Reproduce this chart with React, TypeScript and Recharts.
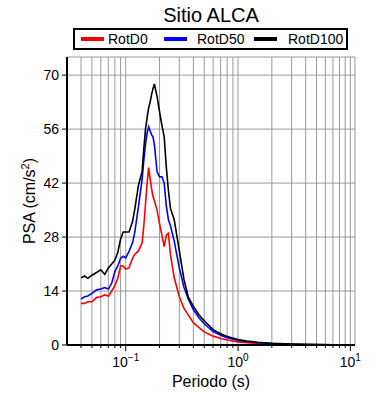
import { CartesianGrid, Legend, Line, LineChart, XAxis, YAxis } from "recharts";

const periods = [
  0.04, 0.043, 0.046, 0.05, 0.055, 0.06, 0.065, 0.07, 0.075, 0.08, 0.085, 0.09, 0.095, 0.1, 0.107, 0.115, 0.12,
  0.13, 0.14, 0.145, 0.15, 0.155, 0.16, 0.165, 0.17, 0.175, 0.18, 0.19, 0.2, 0.21, 0.22, 0.23, 0.24, 0.25, 0.27,
  0.3, 0.33, 0.36, 0.4, 0.45, 0.5, 0.6, 0.7, 0.8, 1, 1.2, 1.5, 2, 3, 4, 5, 7, 10,
];
const rotD0 = [
  10.8, 10.8, 11.2, 11.2, 12.3, 12.5, 13.0, 12.7, 14.0, 15.4, 17.3, 20.5, 20.5, 19.7, 20.0, 22.5, 23.5,
  24.4, 26.5, 31, 36.5, 42, 46, 43, 40.5, 38.5, 37.5, 35, 31.5, 28.5, 25.5, 28.5, 29, 23.5, 17.5,
  12.5, 9.5, 7.8, 5.8, 4.5, 3.4, 2.3, 1.7, 1.3, 0.8, 0.6, 0.4, 0.25, 0.13, 0.08, 0.05, 0.03, 0.02,
];
const rotD50 = [
  11.9, 12.5, 12.7, 13.4, 14.3, 14.5, 14.9, 14.5, 16.0, 19.0, 20.5, 22.5, 23.0, 22.6, 24.3, 26.5, 29.0,
  36, 43, 48, 52, 55, 56.6, 55.5, 54.5, 54.0, 52, 45, 43.6, 43.6, 42, 36, 32.5, 31, 27,
  20, 15, 12, 9.2, 7.0, 5.5, 3.5, 2.5, 1.9, 1.2, 0.9, 0.6, 0.4, 0.2, 0.13, 0.09, 0.05, 0.03,
];
const rotD100 = [
  17.4, 17.9, 17.3, 18.1, 18.8, 19.5, 18.3, 20.0, 21.0, 22.0, 24.0, 27.5, 29.3, 29.3, 29.3, 32.0, 35.0,
  41.5, 45, 51, 56, 59, 61.5, 63, 65, 66.5, 67.7, 64.5, 60.5, 57, 54, 46, 40, 35.5, 32.5,
  24.5, 17, 12.5, 10.0, 7.8, 6.3, 4.0, 2.9, 2.2, 1.4, 1.0, 0.7, 0.45, 0.25, 0.15, 0.1, 0.05, 0.03,
];

const seriesNames = ["RotD0", "RotD50", "RotD100"];
const yTicks = [0, 14, 28, 42, 56, 70];
const xTicks = [
  0.04, 0.05, 0.06, 0.07, 0.08, 0.09, 0.1, 0.2, 0.3, 0.4, 0.5, 0.6, 0.7, 0.8, 0.9, 1, 2, 3, 4, 5, 6, 7, 8, 9, 10,
];
const decadeExp: Record<string, string> = { "0.1": "\u22121", "1": "0", "10": "1" };

const data = periods.map((t, i) => ({ t, rotD0: rotD0[i], rotD50: rotD50[i], rotD100: rotD100[i] }));

const font = "'Liberation Sans', Arial, Helvetica, sans-serif";

function BottomTick({ x, y, payload }: any) {
  const exp = decadeExp[String(payload.value)];
  const major = exp !== undefined;
  return (
    <g>
      <line x1={x} x2={x} y1={y} y2={y + (major ? 6 : 3)} stroke="#000" />
      {major && (
        <text x={x} y={y + 22} textAnchor="middle" fontSize={14} fill="#000">
          10<tspan dy={-6} fontSize={10}>{exp}</tspan>
        </text>
      )}
    </g>
  );
}

function TopTick({ x, y, payload }: any) {
  const major = decadeExp[String(payload.value)] !== undefined;
  return <line x1={x} x2={x} y1={y} y2={y - (major ? 6 : 3)} stroke="#000" />;
}

const legendPos = [
  { swatch: 6, text: 33 },
  { swatch: 89, text: 122 },
  { swatch: 179, text: 213 },
];

function LegendBox({ payload }: any) {
  const items = seriesNames.map((n) => (payload || []).find((p: any) => p.value === n)).filter(Boolean);
  return (
    <div
      style={{
        position: "relative",
        width: 275,
        height: 22,
        border: "2px solid #000",
        boxSizing: "border-box",
        fontSize: 14,
        fontFamily: font,
        background: "#fff",
      }}
    >
      {items.map((p: any, i: number) => (
        <div key={p.value}>
          <span
            style={{
              position: "absolute",
              left: legendPos[i].swatch,
              top: 7,
              width: 23,
              height: 4,
              background: p.color,
            }}
          />
          <span style={{ position: "absolute", left: legendPos[i].text, top: 1, lineHeight: "16px" }}>{p.value}</span>
        </div>
      ))}
    </div>
  );
}

export default function App() {
  return (
    <div style={{ position: "absolute", left: 0, top: 0, width: 390, height: 400, fontFamily: font }}>
      <div
        style={{
          position: "absolute",
          left: 0,
          width: 422,
          top: 3,
          textAlign: "center",
          fontSize: 20,
          lineHeight: "24px",
        }}
      >
        Sitio ALCA
      </div>
      <LineChart
        width={390}
        height={400}
        data={data}
        margin={{ top: 57, right: 35, bottom: 15, left: 22 }}
        style={{ fontFamily: font }}
      >
        <CartesianGrid stroke="#999" strokeWidth={1} />
        <XAxis
          dataKey="t"
          type="number"
          scale="log"
          domain={[0.03, 11]}
          ticks={xTicks}
          interval={0}
          height={40}
          tickSize={0}
          tickMargin={0}
          tickLine={false}
          tick={<BottomTick />}
          axisLine={{ stroke: "#000", strokeWidth: 2 }}
          allowDataOverflow
          label={{
            content: ({ viewBox }: any) => (
              <text
                x={viewBox.x + viewBox.width / 2}
                y={viewBox.y + 42}
                textAnchor="middle"
                fontSize={16}
                fill="#000"
              >
                Periodo (s)
              </text>
            ),
          }}
        />
        <XAxis
          xAxisId="top"
          orientation="top"
          dataKey="t"
          type="number"
          scale="log"
          domain={[0.03, 11]}
          ticks={xTicks}
          interval={0}
          height={0}
          tickSize={0}
          tickMargin={0}
          tickLine={false}
          tick={<TopTick />}
          axisLine={{ stroke: "#000", strokeWidth: 2 }}
          allowDataOverflow
        />
        <YAxis
          domain={[0, 74.7]}
          ticks={yTicks}
          interval={0}
          width={45}
          tickSize={5}
          tickMargin={3}
          tick={{ fontSize: 14, fill: "#000" }}
          tickLine={{ stroke: "#000" }}
          axisLine={{ stroke: "#000", strokeWidth: 2 }}
          allowDataOverflow
          label={{
            content: ({ viewBox }: any) => {
              const cx = viewBox.x + 13;
              const cy = viewBox.y + viewBox.height / 2;
              return (
                <text x={cx} y={cy} transform={`rotate(-90, ${cx}, ${cy})`} textAnchor="middle" fontSize={16} fill="#000">
                  PSA (cm/s<tspan dy={-6} fontSize={11}>2</tspan>
                  <tspan dy={6}>)</tspan>
                </text>
              );
            },
          }}
        />
        <YAxis
          yAxisId="right"
          orientation="right"
          domain={[0, 74.7]}
          width={0}
          tick={false}
          tickLine={false}
          axisLine={{ stroke: "#000", strokeWidth: 2 }}
        />
        <Legend
          layout="horizontal"
          verticalAlign="middle"
          align="center"
          content={<LegendBox />}
          wrapperStyle={{ top: 28, left: 73, width: 275, height: 22 }}
        />
        <Line dataKey="rotD0" name="RotD0" stroke="#ff0000" strokeWidth={1.6} dot={false} isAnimationActive={false} />
        <Line dataKey="rotD50" name="RotD50" stroke="#0000ff" strokeWidth={1.6} dot={false} isAnimationActive={false} />
        <Line dataKey="rotD100" name="RotD100" stroke="#000000" strokeWidth={1.6} dot={false} isAnimationActive={false} />
      </LineChart>
    </div>
  );
}
